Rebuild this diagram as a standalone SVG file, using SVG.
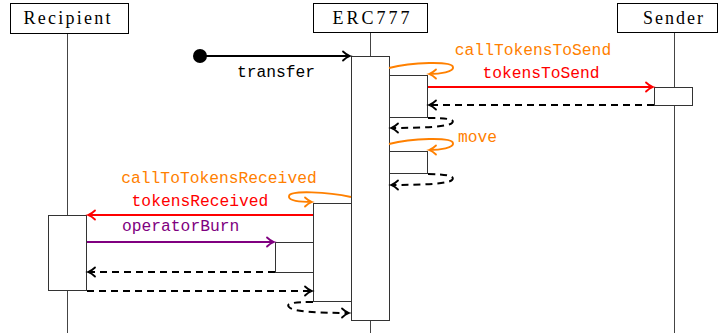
<svg xmlns="http://www.w3.org/2000/svg" width="719" height="333" viewBox="0 0 719 333">
<style>
.hdr{fill:#fff;stroke:#000;stroke-width:1}
.htxt{font-family:"Liberation Serif","DejaVu Serif",serif;font-size:18px;fill:#000;text-anchor:middle}
.life{stroke:#444;stroke-width:1}
.act{fill:#fff;stroke:#333;stroke-width:1}
.lbl{font-family:"Liberation Mono","DejaVu Sans Mono",monospace;font-size:16.3px}
.blk{stroke:#000;stroke-width:2;fill:none}
.dash{stroke:#000;stroke-width:2;fill:none;stroke-dasharray:7 5}
.org{stroke:#ff8000;stroke-width:2;fill:none}
.red{stroke:#ff0000;stroke-width:2;fill:none}
.pur{stroke:#800080;stroke-width:2;fill:none}
</style>
<defs>
<marker id="aBlk" markerUnits="userSpaceOnUse" viewBox="-10 -6 12 12" markerWidth="12" markerHeight="12" refX="0" refY="0" orient="auto" overflow="visible">
<path d="M-7,-4.5 C-4.5,-2 -1.5,-0.5 0,0 C-1.5,0.5 -4.5,2 -7,4.5" fill="none" stroke="#000" stroke-width="1.8" stroke-linecap="round"/>
</marker>
<marker id="aOrg" markerUnits="userSpaceOnUse" viewBox="-10 -6 12 12" markerWidth="12" markerHeight="12" refX="0" refY="0" orient="auto" overflow="visible">
<path d="M-7,-4.5 C-4.5,-2 -1.5,-0.5 0,0 C-1.5,0.5 -4.5,2 -7,4.5" fill="none" stroke="#ff8000" stroke-width="1.8" stroke-linecap="round"/>
</marker>
<marker id="aRed" markerUnits="userSpaceOnUse" viewBox="-10 -6 12 12" markerWidth="12" markerHeight="12" refX="0" refY="0" orient="auto" overflow="visible">
<path d="M-7,-4.5 C-4.5,-2 -1.5,-0.5 0,0 C-1.5,0.5 -4.5,2 -7,4.5" fill="none" stroke="#ff0000" stroke-width="1.8" stroke-linecap="round"/>
</marker>
<marker id="aPur" markerUnits="userSpaceOnUse" viewBox="-10 -6 12 12" markerWidth="12" markerHeight="12" refX="0" refY="0" orient="auto" overflow="visible">
<path d="M-7,-4.5 C-4.5,-2 -1.5,-0.5 0,0 C-1.5,0.5 -4.5,2 -7,4.5" fill="none" stroke="#800080" stroke-width="1.8" stroke-linecap="round"/>
</marker>
</defs>
<rect width="719" height="333" fill="#fff"/>

<g id="recipient">
<line class="life" x1="67.5" y1="34" x2="67.5" y2="333"/>
<rect class="hdr" x="10.5" y="3.5" width="118" height="30"/>
<text class="htxt" x="67" y="23.5" textLength="87" lengthAdjust="spacing">Recipient</text>
<rect class="act" x="48.5" y="215.5" width="38" height="75"/>
</g>

<g id="erc777">
<line class="life" x1="370.5" y1="33" x2="370.5" y2="333"/>
<rect class="hdr" x="313.5" y="3.5" width="114" height="29"/>
<text class="htxt" x="371" y="23.5" textLength="77" lengthAdjust="spacing">ERC777</text>
<rect class="act" x="351.5" y="56.5" width="38" height="264"/>
<rect class="act" x="389.5" y="75.5" width="38" height="42"/>
<rect class="act" x="389.5" y="151.5" width="38" height="22"/>
<rect class="act" x="313.5" y="203.5" width="38" height="98"/>
<rect class="act" x="275.5" y="242.5" width="38" height="30"/>
</g>

<g id="sender">
<line class="life" x1="674.5" y1="33" x2="674.5" y2="333"/>
<rect class="hdr" x="617.5" y="3.5" width="100" height="29"/>
<text class="htxt" x="673" y="23.5" textLength="60" lengthAdjust="spacing">Sender</text>
<rect class="act" x="654.5" y="87.5" width="38" height="18"/>
</g>

<g id="connectors">
<circle cx="200" cy="56" r="7" fill="#000"/>
<line class="blk" x1="200" y1="56" x2="350" y2="56" marker-end="url(#aBlk)"/>
<text class="lbl" x="276" y="77" text-anchor="middle" fill="#000">transfer</text>

<path class="org" d="M389,68 C412,62 452,61 453,67 C454,72 440,74 429,74" marker-end="url(#aOrg)"/>
<text class="lbl" x="533" y="55" text-anchor="middle" fill="#ff8000">callTokensToSend</text>

<line class="red" x1="428" y1="87" x2="653" y2="87" marker-end="url(#aRed)"/>
<text class="lbl" x="541" y="78" text-anchor="middle" fill="#ff0000">tokensToSend</text>

<line class="dash" x1="654" y1="105" x2="429" y2="105" marker-end="url(#aBlk)"/>
<path class="dash" d="M428,118 C445,118 456,119 452,123 C448,127 420,128 391,128" marker-end="url(#aBlk)"/>

<path class="org" d="M389,144 C412,138 452,137 453,143 C454,148 440,150 429,150" marker-end="url(#aOrg)"/>
<text class="lbl" x="458" y="142" fill="#ff8000">move</text>

<path class="dash" d="M428,174 C445,174 456,176 452,180 C448,184 420,185 391,185" marker-end="url(#aBlk)"/>

<path class="org" d="M351,197 C328,192 290,190 289,196 C288,201 300,202 312,202" marker-end="url(#aOrg)"/>
<text class="lbl" x="219" y="183" text-anchor="middle" fill="#ff8000">callToTokensReceived</text>

<line class="red" x1="313" y1="215" x2="88" y2="215" marker-end="url(#aRed)"/>
<text class="lbl" x="200" y="206" text-anchor="middle" fill="#ff0000">tokensReceived</text>

<line class="pur" x1="87" y1="242" x2="274" y2="242" marker-end="url(#aPur)"/>
<text class="lbl" x="122" y="231" fill="#800080">operatorBurn</text>

<line class="dash" x1="275" y1="272" x2="88" y2="272" marker-end="url(#aBlk)"/>
<line class="dash" x1="87" y1="291" x2="312" y2="291" marker-end="url(#aBlk)"/>
<path class="dash" d="M313,302 C296,302 285,303 289,307 C293,312 320,313 349,313" marker-end="url(#aBlk)"/>
</g>
</svg>
